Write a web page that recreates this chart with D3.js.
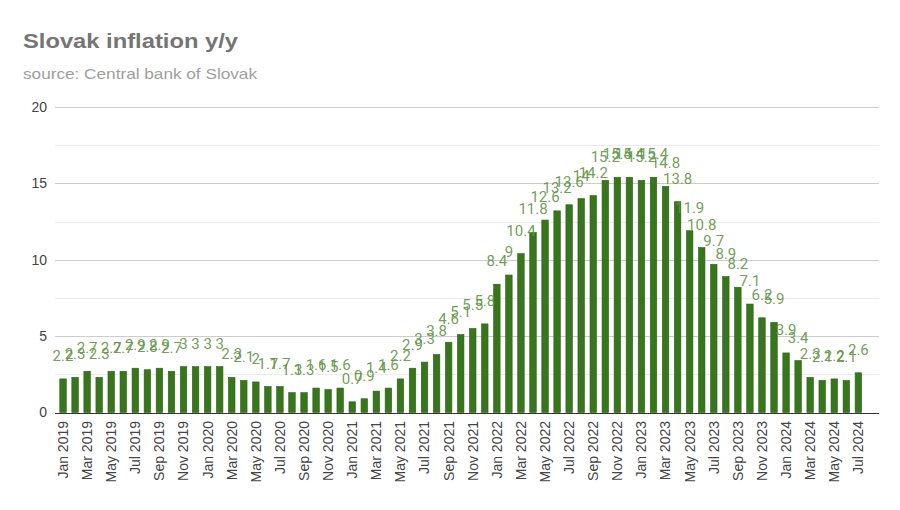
<!DOCTYPE html>
<html>
<head>
<meta charset="utf-8">
<script src="https://cdn.jsdelivr.net/npm/d3@7"></script>
<style>
  html, body { margin: 0; padding: 0; background: #fff; }
  svg { display: block; }
</style>
</head>
<body>
<svg id="chart" width="900" height="510"></svg>
<script>
// ---- data ----
const title = "Slovak inflation y/y";
const subtitle = "source: Central bank of Slovak";

const months = [
  "Jan 2019","Feb 2019","Mar 2019","Apr 2019","May 2019","Jun 2019","Jul 2019","Aug 2019","Sep 2019","Oct 2019","Nov 2019","Dec 2019",
  "Jan 2020","Feb 2020","Mar 2020","Apr 2020","May 2020","Jun 2020","Jul 2020","Aug 2020","Sep 2020","Oct 2020","Nov 2020","Dec 2020",
  "Jan 2021","Feb 2021","Mar 2021","Apr 2021","May 2021","Jun 2021","Jul 2021","Aug 2021","Sep 2021","Oct 2021","Nov 2021","Dec 2021",
  "Jan 2022","Feb 2022","Mar 2022","Apr 2022","May 2022","Jun 2022","Jul 2022","Aug 2022","Sep 2022","Oct 2022","Nov 2022","Dec 2022",
  "Jan 2023","Feb 2023","Mar 2023","Apr 2023","May 2023","Jun 2023","Jul 2023","Aug 2023","Sep 2023","Oct 2023","Nov 2023","Dec 2023",
  "Jan 2024","Feb 2024","Mar 2024","Apr 2024","May 2024","Jun 2024","Jul 2024"
];

const inflation = [
  2.2, 2.3, 2.7, 2.3, 2.7, 2.7, 2.9, 2.8, 2.9, 2.7, 3, 3,
  3, 3, 2.3, 2.1, 2, 1.7, 1.7, 1.3, 1.3, 1.6, 1.5, 1.6,
  0.7, 0.9, 1.4, 1.6, 2.2, 2.9, 3.3, 3.8, 4.6, 5.1, 5.5, 5.8,
  8.4, 9, 10.4, 11.8, 12.6, 13.2, 13.6, 14, 14.2, 15.2, 15.4, 15.4,
  15.2, 15.4, 14.8, 13.8, 11.9, 10.8, 9.7, 8.9, 8.2, 7.1, 6.2, 5.9,
  3.9, 3.4, 2.3, 2.1, 2.2, 2.1, 2.6
];

const majorTicks = [0, 5, 10, 15, 20];
const minorTicks = [2.5, 7.5, 12.5, 17.5];
const xTickLabels = months.filter((m, i) => i % 2 === 0);

// ---- drawing ----
const svg = d3.select("#chart");

const plotLeft = 55, plotRight = 879;
const x = d3.scaleBand().domain(months).range([57, 864.4]).paddingInner(0.46).paddingOuter(0.23);
const y = d3.scaleLinear().domain([0, 20]).range([412.5, 107]);

// title & subtitle
svg.append("text")
  .attr("x", 23).attr("y", 48)
  .attr("font-family", "Arial, 'Liberation Sans', sans-serif")
  .attr("font-weight", "bold").attr("font-size", 20)
  .attr("fill", "#757575")
  .attr("textLength", 215).attr("lengthAdjust", "spacingAndGlyphs")
  .text(title);

svg.append("text")
  .attr("x", 23).attr("y", 79)
  .attr("font-family", "Arial, 'Liberation Sans', sans-serif")
  .attr("font-size", 15)
  .attr("fill", "#9e9e9e")
  .attr("textLength", 234).attr("lengthAdjust", "spacingAndGlyphs")
  .text(subtitle);

// minor grid
svg.append("g").selectAll("line").data(minorTicks).join("line")
  .attr("x1", plotLeft).attr("x2", plotRight)
  .attr("y1", d => Math.round(y(d)) + 0.5).attr("y2", d => Math.round(y(d)) + 0.5)
  .attr("stroke", "#ececec").attr("stroke-width", 1);

// major grid
svg.append("g").selectAll("line").data(majorTicks.filter(d => d !== 0)).join("line")
  .attr("x1", plotLeft).attr("x2", plotRight)
  .attr("y1", d => Math.round(y(d)) + 0.5).attr("y2", d => Math.round(y(d)) + 0.5)
  .attr("stroke", "#cccccc").attr("stroke-width", 1);

// y axis labels
const yAxis = d3.axisLeft(y).tickValues(majorTicks).tickSize(0).tickPadding(0).tickFormat(d3.format("d"));
const yg = svg.append("g").attr("transform", `translate(47,0)`).call(yAxis);
yg.select(".domain").remove();
yg.selectAll("text")
  .attr("font-family", "Arial, 'Liberation Sans', sans-serif")
  .attr("font-size", 14).attr("fill", "#444");

// bars
svg.append("g").selectAll("rect").data(inflation).join("rect")
  .attr("x", (d, i) => x(months[i]))
  .attr("width", x.bandwidth())
  .attr("y", d => y(d))
  .attr("height", d => y(0) - y(d))
  .attr("fill", "#38761d")
  .attr("stroke", "#2c6314").attr("stroke-width", 0.6);

// baseline
svg.append("line")
  .attr("x1", plotLeft).attr("x2", plotRight)
  .attr("y1", Math.round(y(0)) + 0.5).attr("y2", Math.round(y(0)) + 0.5)
  .attr("stroke", "#333").attr("stroke-width", 1);

// value labels
svg.append("g").selectAll("text").data(inflation).join("text")
  .attr("x", (d, i) => x(months[i]) + x.bandwidth() / 2)
  .attr("y", d => y(d) - 18)
  .attr("text-anchor", "middle")
  .attr("font-family", "Roboto, Arial, sans-serif")
  .attr("font-size", 15)
  .attr("fill", "#5d9442")
  .attr("fill-opacity", 0.9)
  .text(d => d3.format("~")(d));

// x axis labels
const xAxis = d3.axisBottom(x).tickValues(xTickLabels).tickSize(0).tickPadding(0);
const xg = svg.append("g").attr("transform", `translate(0,${Math.round(y(0))})`).call(xAxis);
xg.select(".domain").remove();
xg.selectAll("text")
  .attr("font-family", "Arial, 'Liberation Sans', sans-serif")
  .attr("font-size", 14).attr("fill", "#444")
  .attr("text-anchor", "end")
  .attr("transform", "translate(0,8) rotate(-90)")
  .attr("x", 0).attr("y", 0).attr("dy", "0.35em");
</script>
</body>
</html>
